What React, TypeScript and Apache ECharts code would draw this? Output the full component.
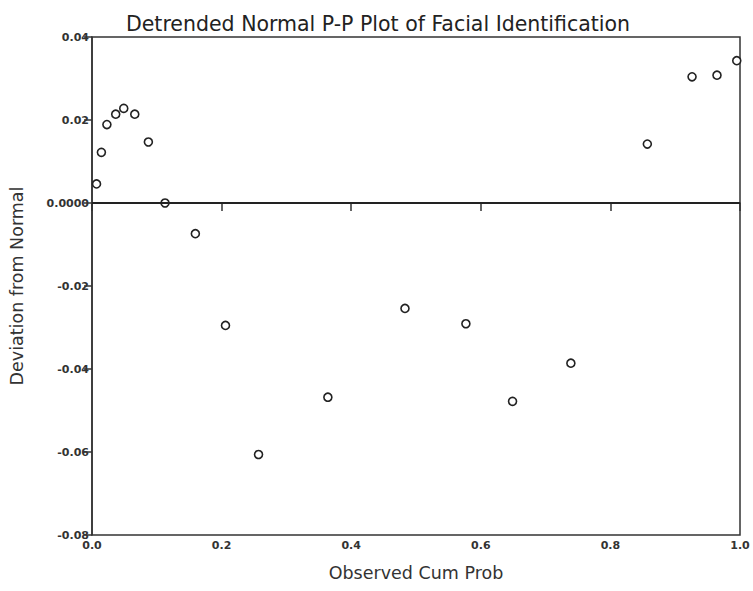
import React, { useEffect, useRef } from "react";
import * as echarts from "echarts";

const observedCumProb = [
  0.007, 0.0145, 0.023, 0.0366, 0.049, 0.066, 0.087, 0.1127, 0.1595, 0.206,
  0.257, 0.364, 0.483, 0.577, 0.649, 0.739, 0.857, 0.926, 0.9645, 0.995,
];
const deviation = [
  0.0046, 0.0122, 0.0189, 0.0214, 0.0228, 0.0214, 0.0147, 0.0, -0.0074, -0.0295,
  -0.0606, -0.0468, -0.0254, -0.0291, -0.0478, -0.0386, 0.0142, 0.0304, 0.0308, 0.0343,
];
const xTicks = { min: 0, max: 1, interval: 0.2 };
const yTicks = { min: -0.08, max: 0.04, interval: 0.02 };

const titleText = "Detrended Normal P-P Plot of Facial Identification";
const xName = "Observed Cum Prob";
const yName = "Deviation from Normal";

export default function App() {
  const ref = useRef<HTMLDivElement>(null);
  useEffect(() => {
    if (!ref.current) return;
    const chart = echarts.init(ref.current, null, { renderer: "svg" });
    const font = "'DejaVu Sans', sans-serif";
    chart.setOption({
      animation: false,
      backgroundColor: "#ffffff",
      title: {
        text: titleText,
        left: 373,
        textAlign: "center",
        top: 8,
        textStyle: { fontFamily: font, fontSize: 20.5, fontWeight: "normal", color: "#222" },
      },
      grid: {
        left: 92,
        right: 13,
        top: 37,
        bottom: 56,
        outerBoundsMode: "none",
        containLabel: false,
        show: true,
        borderColor: "#333",
        borderWidth: 1.5,
        backgroundColor: "#fff",
      },
      xAxis: {
        type: "value",
        min: xTicks.min,
        max: xTicks.max,
        interval: xTicks.interval,
        name: xName,
        nameLocation: "middle",
        nameGap: 29,
        nameTextStyle: { fontFamily: font, fontSize: 17.5, color: "#333" },
        axisLine: { show: true, lineStyle: { color: "#333", width: 1.5 } },
        axisTick: { show: true, length: 8, lineStyle: { color: "#333", width: 1.5 } },
        splitLine: { show: false },
        axisLabel: {
          fontFamily: font,
          fontSize: 11,
          fontWeight: "bold",
          color: "#333",
          margin: 5,
          formatter: (v: number) => v.toFixed(1),
        },
      },
      yAxis: {
        type: "value",
        min: yTicks.min,
        max: yTicks.max,
        interval: yTicks.interval,
        name: yName,
        nameLocation: "middle",
        nameGap: 66,
        nameTextStyle: { fontFamily: font, fontSize: 17.5, color: "#333" },
        axisLine: { show: true, lineStyle: { color: "#333", width: 1.5 } },
        axisTick: { show: true, length: 8, lineStyle: { color: "#333", width: 1.5 } },
        splitLine: { show: false },
        axisLabel: {
          fontFamily: font,
          fontSize: 11,
          fontWeight: "bold",
          color: "#333",
          margin: 3,
          formatter: (v: number) => (Math.abs(v) < 1e-9 ? "0.0000" : v.toFixed(2)),
        },
      },
      series: [
        {
          type: "scatter",
          data: observedCumProb.map((x, i) => [x, deviation[i]]),
          symbol: "circle",
          symbolSize: 8,
          clip: false,
          itemStyle: { color: "#fff", borderColor: "#222", borderWidth: 1.6, opacity: 1 },
          markLine: {
            silent: true,
            symbol: "none",
            label: { show: false },
            lineStyle: { color: "#222", width: 2, type: "solid" },
            data: [{ yAxis: 0 }],
          },
          z: 3,
        },
      ],
    });
    return () => chart.dispose();
  }, []);
  return <div ref={ref} style={{ width: 753, height: 591, position: "absolute", left: 0, top: 0 }} />;
}
